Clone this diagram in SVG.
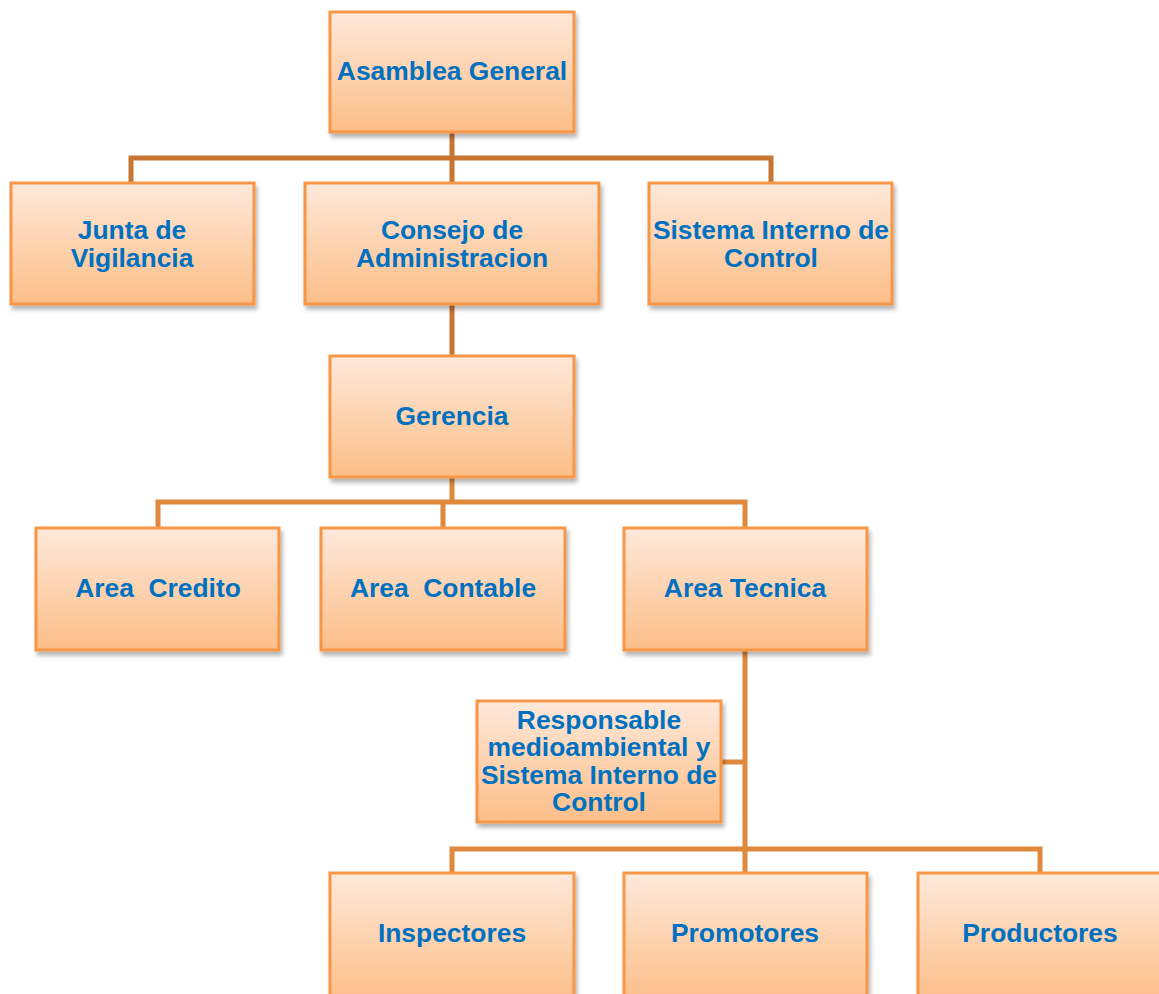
<svg xmlns="http://www.w3.org/2000/svg" width="1159" height="994" viewBox="0 0 1159 994">
<defs>
<linearGradient id="g" x1="0" y1="0" x2="0" y2="1">
<stop offset="0" stop-color="#FEE9DB"/>
<stop offset="0.5" stop-color="#FDD3B0"/>
<stop offset="1" stop-color="#FCBE88"/>
</linearGradient>
<filter id="sh" x="-10%" y="-10%" width="125%" height="130%">
<feGaussianBlur in="SourceAlpha" stdDeviation="2"/>
<feOffset dx="2" dy="4"/>
<feComponentTransfer><feFuncA type="linear" slope="0.3"/></feComponentTransfer>
<feMerge><feMergeNode/><feMergeNode in="SourceGraphic"/></feMerge>
</filter>
</defs>
<style>
.box{fill:url(#g);stroke:#F79646;stroke-width:3;filter:url(#sh)}
.t{font-family:"Liberation Sans",Arial,sans-serif;font-weight:bold;font-size:26.4px;fill:#0070C0;text-anchor:middle}
.c1{fill:none;stroke:#C87533;stroke-width:5}
.c2{fill:none;stroke:#E0883C;stroke-width:5}
</style>
<rect width="1159" height="994" fill="#FFFFFF"/>
<g id="connectors">
<path class="c1" d="M452 132V183M131 183V158H771V183"/>
<path class="c1" d="M452 304V356"/>
<path class="c2" d="M452 477V502M158 528V502H745V528M443 502V528"/>
<path class="c2" d="M745 650V873M721 762H745M452 873V849H1040V873"/>
</g>
<g id="asamblea"><rect class="box" x="330" y="12" width="244" height="120"/><text class="t" x="452" y="80">Asamblea General</text></g>
<g id="junta"><rect class="box" x="11" y="183" width="243" height="121"/><text class="t" x="132" y="239">Junta de</text><text class="t" x="132" y="267">Vigilancia</text></g>
<g id="consejo"><rect class="box" x="305" y="183" width="294" height="121"/><text class="t" x="452" y="239">Consejo de</text><text class="t" x="452" y="267">Administracion</text></g>
<g id="sistema"><rect class="box" x="649" y="183" width="243" height="121"/><text class="t" x="771" y="239">Sistema Interno de</text><text class="t" x="771" y="267">Control</text></g>
<g id="gerencia"><rect class="box" x="330" y="356" width="244" height="121"/><text class="t" x="452" y="425">Gerencia</text></g>
<g id="credito"><rect class="box" x="36" y="528" width="243" height="122"/><text class="t" x="158" y="597" xml:space="preserve">Area  Credito</text></g>
<g id="contable"><rect class="box" x="321" y="528" width="244" height="122"/><text class="t" x="443" y="597" xml:space="preserve">Area  Contable</text></g>
<g id="tecnica"><rect class="box" x="624" y="528" width="243" height="122"/><text class="t" x="745" y="597">Area Tecnica</text></g>
<g id="responsable"><rect class="box" x="477" y="701" width="244" height="121"/><text class="t" x="599" y="729">Responsable</text><text class="t" x="599" y="756">medioambiental y</text><text class="t" x="599" y="784">Sistema Interno de</text><text class="t" x="599" y="811">Control</text></g>
<g id="inspectores"><rect class="box" x="330" y="873" width="244" height="130"/><text class="t" x="452" y="942">Inspectores</text></g>
<g id="promotores"><rect class="box" x="624" y="873" width="243" height="130"/><text class="t" x="745" y="942">Promotores</text></g>
<g id="productores"><rect class="box" x="918" y="873" width="243" height="130"/><text class="t" x="1040" y="942">Productores</text></g>
</svg>
